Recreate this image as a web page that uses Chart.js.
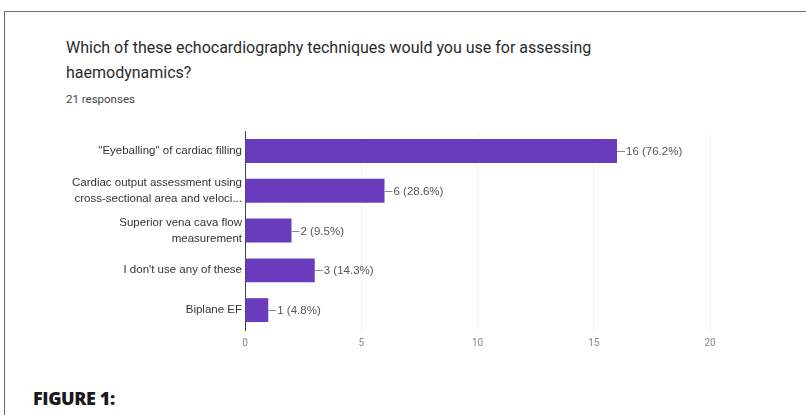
<!DOCTYPE html>
<html>
<head>
<meta charset="utf-8">
<script src="https://cdn.jsdelivr.net/npm/chart.js@4"></script>
<style>
  body { margin: 0; width: 806px; height: 415px; background: #fff; position: relative; overflow: hidden; }
  .frame { position: absolute; left: 4px; top: 11px; right: 0; bottom: 0; border-top: 1px solid #6a6a6a; border-left: 1px solid #6a6a6a; }
  .title { position: absolute; left: 66px; top: 35px; font-family: Roboto, sans-serif; font-size: 16px; line-height: 25px; color: #2b2b2b; }
  .resp { position: absolute; left: 66px; top: 92px; font-family: Roboto, sans-serif; font-size: 11.5px; color: #444; }
  .fig { position: absolute; left: 33px; top: 386px; font-family: "Open Sans", sans-serif; font-weight: 800; font-size: 18px; line-height: 24px; color: #1a1a1a; letter-spacing: -0.4px; }
  #wrap { position: absolute; left: 0; top: 120px; width: 806px; height: 232px; }
</style>
</head>
<body>
<div class="frame"></div>
<div class="title">Which of these echocardiography techniques would you use for assessing<br>haemodynamics?</div>
<div class="resp">21 responses</div>
<div id="wrap"><canvas id="chart"></canvas></div>
<div class="fig">FIGURE 1:</div>
<script>
const categories = [
  '"Eyeballing" of cardiac filling',
  ['Cardiac output assessment using', 'cross-sectional area and veloci...'],
  ['Superior vena cava flow', 'measurement'],
  "I don't use any of these",
  'Biplane EF'
];
const counts = [16, 6, 2, 3, 1];
const percents = ['76.2%', '28.6%', '9.5%', '14.3%', '4.8%'];
const xTicks = [0, 5, 10, 15, 20];

const valueLabels = {
  id: 'valueLabels',
  afterDatasetsDraw(chart) {
    const ctx = chart.ctx;
    const xs = chart.scales.x, ys = chart.scales.y;
    ctx.save();
    ctx.font = '11.5px "Liberation Sans", Arial, sans-serif';
    ctx.fillStyle = '#555';
    ctx.strokeStyle = '#888';
    ctx.lineWidth = 1;
    ctx.textBaseline = 'middle';
    counts.forEach((v, i) => {
      const x = xs.getPixelForValue(v);
      const y = Math.round(ys.getPixelForValue(i)) + 0.5;
      ctx.beginPath();
      ctx.moveTo(x, y);
      ctx.lineTo(x + 8, y);
      ctx.stroke();
      ctx.fillText(v + ' (' + percents[i] + ')', x + 9, y);
    });
    ctx.restore();
  }
};

new Chart(document.getElementById('chart'), {
  type: 'bar',
  data: {
    labels: categories,
    datasets: [{
      data: counts,
      backgroundColor: '#6a3bbd',
      categoryPercentage: 0.6,
      barPercentage: 1.0
    }]
  },
  options: {
    indexAxis: 'y',
    responsive: true,
    maintainAspectRatio: false,
    animation: false,
    layout: { padding: { left: 0, right: 96, top: 10, bottom: 0 } },
    plugins: { legend: { display: false }, tooltip: { enabled: false } },
    scales: {
      x: {
        min: 0, max: 20,
        afterBuildTicks: s => { s.ticks = xTicks.map(v => ({ value: v })); },
        afterFit: s => { s.height = 22; },
        grid: { color: 'rgba(0,0,0,0.05)', drawTicks: false },
        border: { display: false },
        ticks: { padding: 7, color: '#888', font: { family: 'Roboto', size: 10 } }
      },
      y: {
        afterFit: s => { s.width = 245; },
        grid: { display: false, drawTicks: false },
        border: { display: true, color: '#444', width: 1 },
        ticks: { padding: 3, color: '#333', font: { family: '"Liberation Sans", Arial, sans-serif', size: 11.5, lineHeight: 1.4 } }
      }
    }
  },
  plugins: [valueLabels]
});
</script>
</body>
</html>
